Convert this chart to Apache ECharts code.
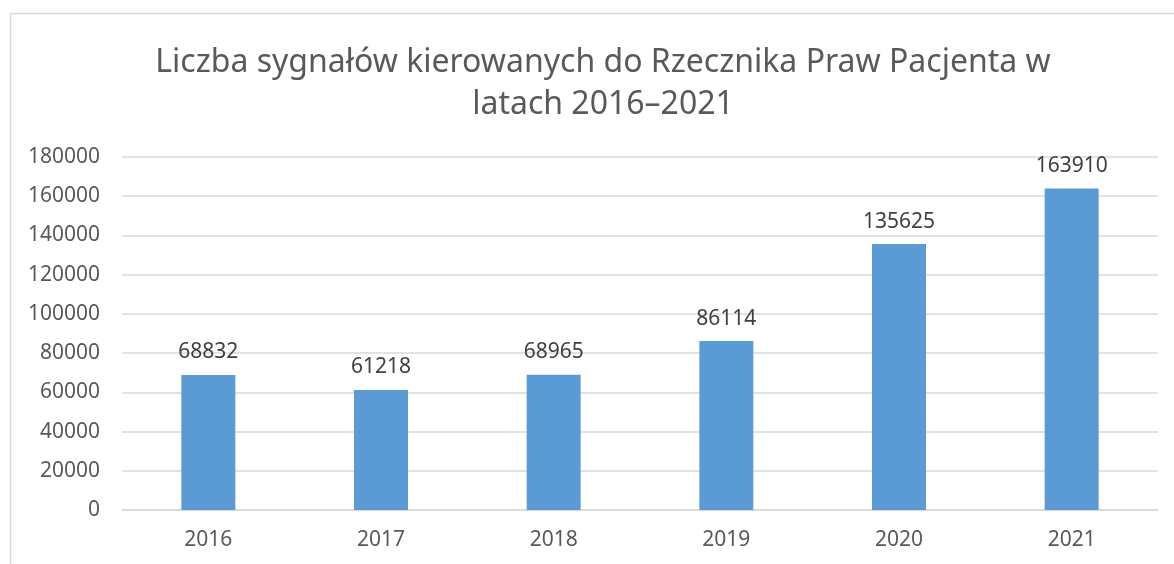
<!DOCTYPE html>
<html lang="pl">
<head>
    <meta charset="UTF-8"/>
    <title>Liczba sygnałów</title>
    <script src="https://cdn.jsdelivr.net/npm/echarts@6/dist/echarts.min.js"></script>
    <style>
        html, body { margin: 0; padding: 0; background: #fff; }
    </style>
</head>
<body>
<div id="main" style="width: 1174px;height: 564px;"></div>
<script type="text/javascript">
    // dane
    var years = ['2016', '2017', '2018', '2019', '2020', '2021'];
    var signals = [68832, 61218, 68965, 86114, 135625, 163910];

    var myChart = echarts.init(document.getElementById('main'));

    myChart.setOption({
        animation: false,
        textStyle: { fontFamily: 'Noto Sans' },
        title: {
            text: 'Liczba sygnałów kierowanych do Rzecznika Praw Pacjenta w\nlatach 2016–2021',
            left: 598,
            top: 37,
            textAlign: 'center',
            textStyle: {
                fontFamily: 'Noto Sans',
                fontSize: 32,
                fontWeight: 'normal',
                color: '#595959',
                lineHeight: 42
            }
        },
        graphic: [{
            type: 'rect',
            silent: true,
            shape: { x: 10.5, y: 13.5, width: 1300, height: 700 },
            style: { fill: 'none', stroke: '#d9d9d9', lineWidth: 1.5 }
        }],
        grid: {
            left: 122,
            right: 16,
            top: 157,
            bottom: 54
        },
        xAxis: {
            type: 'category',
            data: years,
            axisTick: { show: false },
            axisLine: { lineStyle: { color: '#d9d9d9', width: 1.5 } },
            axisLabel: { color: '#595959', fontSize: 21, margin: 20 }
        },
        yAxis: {
            type: 'value',
            min: 0,
            max: 180000,
            interval: 20000,
            axisLine: { show: false },
            axisTick: { show: false },
            axisLabel: {
                color: '#595959',
                fontSize: 21,
                margin: 22,
                formatter: function (v) { return String(v); }
            },
            splitLine: { lineStyle: { color: '#d9d9d9', width: 1.5 } }
        },
        series: [{
            name: 'Liczba sygnałów',
            type: 'bar',
            data: signals,
            barWidth: 54,
            itemStyle: { color: '#5b9bd5' },
            label: {
                show: true,
                position: 'top',
                distance: 12,
                color: '#404040',
                fontSize: 21
            }
        }]
    });
</script>
</body>
</html>
